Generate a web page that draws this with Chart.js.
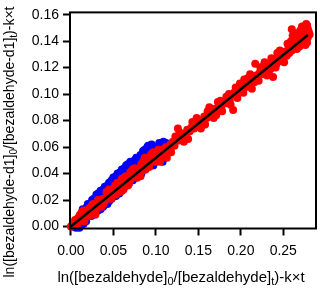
<!DOCTYPE html>
<html>
<head>
<meta charset="utf-8">
<script src="https://cdn.jsdelivr.net/npm/chart.js@4.4.0/dist/chart.umd.min.js"></script>
<style>
  html, body { margin: 0; padding: 0; background: #fff; }
  #wrap { width: 320px; height: 291px; }
</style>
</head>
<body>
<div id="wrap"><canvas id="chart" width="320" height="291"></canvas></div>
<script>
// Scatter of isotope-corrected log ratios (blue / red runs) with linear fit

// red series
const redX = [
  0.000, 0.004, 0.008, 0.010, 0.012, 0.015, 0.018, 0.020, 0.024, 0.026, 0.028, 0.030, 0.032, 0.035,
  0.038, 0.040, 0.042, 0.045, 0.047, 0.050, 0.052, 0.055, 0.058, 0.060, 0.062, 0.065, 0.068, 0.070,
  0.072, 0.075, 0.078, 0.080, 0.083, 0.085, 0.088, 0.090, 0.093, 0.095, 0.098, 0.100, 0.029, 0.062,
  0.102, 0.105, 0.107, 0.110, 0.112, 0.115, 0.117, 0.120, 0.122, 0.125, 0.127, 0.130, 0.132, 0.135,
  0.137, 0.140, 0.142, 0.145, 0.147, 0.150, 0.152, 0.155, 0.157, 0.160, 0.162, 0.165, 0.167, 0.170,
  0.172, 0.175, 0.177, 0.180, 0.182, 0.185, 0.187, 0.190, 0.191, 0.192, 0.195, 0.197, 0.200, 0.113,
  0.128, 0.138, 0.148, 0.158, 0.163, 0.168, 0.173, 0.178, 0.183, 0.188, 0.194, 0.126,
  0.202, 0.205, 0.207, 0.210, 0.212, 0.215, 0.217, 0.218, 0.220, 0.222, 0.225, 0.227, 0.230, 0.232,
  0.235, 0.237, 0.238, 0.240, 0.242, 0.245, 0.247, 0.250, 0.252, 0.254, 0.256, 0.258, 0.260, 0.260,
  0.262, 0.264, 0.265, 0.267, 0.268, 0.270, 0.271, 0.272, 0.273, 0.274, 0.275, 0.276, 0.277, 0.278,
  0.279, 0.280, 0.278, 0.269, 0.266, 0.263, 0.255, 0.248, 0.243, 0.233, 0.228, 0.223, 0.213, 0.208,
  0.203, 0.105, 0.118, 0.123, 0.133, 0.143, 0.153, 0.161, 0.171, 0.176, 0.186, 0.196, 0.199, 0.204,
  0.211, 0.216, 0.221, 0.226, 0.231, 0.236, 0.241, 0.246, 0.251, 0.257, 0.259, 0.261, 0.266, 0.270,
  0.272, 0.275, 0.277, 0.279, 0.281, 0.276, 0.274, 0.005, 0.013, 0.022, 0.036, 0.044, 0.053, 0.057,
  0.067, 0.073, 0.082, 0.087, 0.092, 0.097, 0.034, 0.016, 0.015, 0.025, 0.045, 0.055, 0.065, 0.075,
  0.085, 0.095, 0.060, 0.070, 0.008, 0.018, 0.022, 0.032, 0.038, 0.042, 0.048, 0.052, 0.058, 0.063,
  0.068, 0.072, 0.078, 0.083, 0.088, 0.093, 0.099, 0.103, 0.108, 0.026, 0.011
];
const redY = [
  0.000, 0.002, 0.006, 0.008, 0.007, 0.009, 0.008, 0.011, 0.012, 0.010, 0.015, 0.013, 0.016, 0.018,
  0.021, 0.019, 0.022, 0.023, 0.021, 0.026, 0.028, 0.027, 0.030, 0.032, 0.029, 0.034, 0.036, 0.035,
  0.038, 0.040, 0.041, 0.043, 0.042, 0.046, 0.047, 0.048, 0.050, 0.052, 0.051, 0.054, 0.009, 0.028,
  0.055, 0.053, 0.058, 0.057, 0.060, 0.059, 0.062, 0.064, 0.061, 0.066, 0.065, 0.068, 0.070, 0.069,
  0.073, 0.072, 0.075, 0.074, 0.078, 0.077, 0.080, 0.079, 0.083, 0.082, 0.084, 0.086, 0.085, 0.089,
  0.088, 0.091, 0.090, 0.094, 0.093, 0.096, 0.095, 0.099, 0.088, 0.101, 0.100, 0.104, 0.103, 0.052,
  0.071, 0.066, 0.082, 0.077, 0.090, 0.082, 0.094, 0.087, 0.098, 0.092, 0.105, 0.074,
  0.106, 0.105, 0.108, 0.110, 0.107, 0.112, 0.123, 0.114, 0.113, 0.116, 0.118, 0.115, 0.120, 0.122,
  0.119, 0.124, 0.113, 0.126, 0.123, 0.128, 0.130, 0.127, 0.132, 0.129, 0.134, 0.136, 0.149, 0.133,
  0.138, 0.137, 0.141, 0.139, 0.143, 0.142, 0.145, 0.140, 0.147, 0.144, 0.150, 0.146, 0.148, 0.152,
  0.143, 0.147, 0.139, 0.136, 0.146, 0.142, 0.138, 0.125, 0.131, 0.117, 0.124, 0.120, 0.104, 0.112,
  0.101, 0.049, 0.056, 0.068, 0.064, 0.079, 0.074, 0.087, 0.084, 0.095, 0.100, 0.097, 0.108, 0.111,
  0.115, 0.109, 0.110, 0.121, 0.114, 0.127, 0.120, 0.133, 0.124, 0.131, 0.140, 0.144, 0.134, 0.148,
  0.151, 0.141, 0.153, 0.149, 0.145, 0.137, 0.139, 0.005, 0.011, 0.014, 0.015, 0.026, 0.024, 0.033,
  0.031, 0.043, 0.038, 0.052, 0.045, 0.056, 0.020, 0.004, 0.012, 0.016, 0.028, 0.033, 0.038, 0.044,
  0.049, 0.055, 0.036, 0.041, 0.002, 0.012, 0.008, 0.020, 0.017, 0.026, 0.022, 0.031, 0.026, 0.037,
  0.032, 0.042, 0.037, 0.047, 0.043, 0.053, 0.049, 0.058, 0.053, 0.017, 0.009
];

// blue series
const blueX = [
  0.002, 0.005, 0.006, 0.008, 0.010, 0.012, 0.014, 0.016, 0.018, 0.020, 0.022, 0.024, 0.026, 0.028,
  0.030, 0.033, 0.035, 0.037, 0.040, 0.042, 0.045, 0.047, 0.050, 0.052, 0.054, 0.056, 0.058, 0.060,
  0.062, 0.064, 0.066, 0.068, 0.070, 0.072, 0.074, 0.076, 0.078, 0.080, 0.082, 0.084, 0.086, 0.088,
  0.090, 0.092, 0.094, 0.096, 0.098, 0.100, 0.103, 0.105, 0.107, 0.110, 0.112, 0.108, 0.097, 0.015,
  0.055, 0.050, 0.060, 0.065, 0.070, 0.075, 0.085, 0.090, 0.095, 0.093, 0.045, 0.040, 0.035, 0.030,
  0.025, 0.020, 0.045, 0.060, 0.080, 0.100, 0.035, 0.010, 0.004, 0.012, 0.018, 0.024, 0.028, 0.032,
  0.038, 0.043, 0.048, 0.053, 0.057, 0.063, 0.068, 0.073, 0.078, 0.083, 0.087, 0.091, 0.096, 0.102,
  0.106, 0.014, 0.019, 0.027, 0.032, 0.038, 0.043, 0.048, 0.053, 0.058, 0.063, 0.067, 0.072, 0.077,
  0.082, 0.087, 0.091, 0.098, 0.104, 0.109, 0.113, 0.115
];
const blueY = [
  0.000, 0.004, -0.001, 0.005, 0.003, 0.009, 0.006, 0.011, 0.010, 0.013, 0.009, 0.015, 0.016, 0.013,
  0.019, 0.020, 0.016, 0.022, 0.024, 0.020, 0.027, 0.025, 0.030, 0.026, 0.031, 0.034, 0.029, 0.035,
  0.033, 0.038, 0.036, 0.040, 0.038, 0.042, 0.044, 0.040, 0.045, 0.047, 0.044, 0.049, 0.051, 0.048,
  0.052, 0.054, 0.050, 0.056, 0.055, 0.057, 0.059, 0.056, 0.061, 0.060, 0.063, 0.049, 0.046, 0.002,
  0.040, 0.037, 0.043, 0.046, 0.049, 0.050, 0.057, 0.060, 0.062, 0.058, 0.033, 0.030, 0.027, 0.024,
  0.020, 0.017, 0.019, 0.027, 0.038, 0.049, 0.013, -0.001, 0.002, 0.001, 0.004, 0.008, 0.009, 0.012,
  0.015, 0.017, 0.021, 0.023, 0.025, 0.030, 0.032, 0.035, 0.037, 0.040, 0.043, 0.046, 0.048, 0.052,
  0.054, 0.013, 0.015, 0.021, 0.025, 0.028, 0.031, 0.035, 0.038, 0.041, 0.044, 0.047, 0.048, 0.052,
  0.054, 0.058, 0.061, 0.060, 0.063, 0.064, 0.058, 0.062
];

// linear fit end points
const fitX = [0.000, 0.279];
const fitY = [0.000, 0.1447];

// axis ticks
const xTicks = [0.00, 0.05, 0.10, 0.15, 0.20, 0.25];
const yTicks = [0.00, 0.02, 0.04, 0.06, 0.08, 0.10, 0.12, 0.14, 0.16];

const FONT = '"Liberation Sans", Arial, sans-serif';

function toPoints(xs, ys) {
    return xs.map((x, i) => ({ x: x, y: ys[i] }));
}

// draw a title made of normal + subscript pieces, centred on (cx, cy)
function drawRichText(ctx, parts, cx, cy, angle, size) {
    const big = size + 'px ' + FONT;
    const small = Math.round(size * 0.7) + 'px ' + FONT;
    let total = 0;
    parts.forEach(p => {
        ctx.font = p.sub ? small : big;
        total += ctx.measureText(p.t).width;
    });
    ctx.save();
    ctx.translate(cx, cy);
    ctx.rotate(angle);
    ctx.fillStyle = '#000';
    ctx.textBaseline = 'alphabetic';
    ctx.textAlign = 'left';
    let x = -total / 2;
    parts.forEach(p => {
        ctx.font = p.sub ? small : big;
        ctx.fillText(p.t, x, p.sub ? size * 0.6 : size * 0.37);
        x += ctx.measureText(p.t).width;
    });
    ctx.restore();
}

const frameAndTitles = {
    id: 'frameAndTitles',
    afterDraw(chart) {
        const ctx = chart.ctx;
        const a = chart.chartArea;
        ctx.save();
        ctx.strokeStyle = '#000';
        ctx.lineWidth = 2;
        ctx.strokeRect(a.left, a.top, a.right - a.left, a.bottom - a.top);
        ctx.restore();

        drawRichText(ctx, [
            { t: 'ln([bezaldehyde]' }, { t: '0', sub: true },
            { t: '/[bezaldehyde]' }, { t: 't', sub: true },
            { t: ')-k\u00d7t' }
        ], 181, 276, 0, 15);

        drawRichText(ctx, [
            { t: 'ln([bezaldehyde-d1]' }, { t: '0', sub: true },
            { t: '/[bezaldehyde-d1]' }, { t: 't', sub: true },
            { t: ')-k\u00d7t' }
        ], 9, 142, -Math.PI / 2, 14);
    }
};

const ctx = document.getElementById('chart').getContext('2d');
const chart = new Chart(ctx, {
    type: 'scatter',
    data: {
        datasets: [
            {
                type: 'line',
                label: 'fit',
                data: toPoints(fitX, fitY),
                borderColor: '#000000',
                borderWidth: 2.5,
                pointRadius: 0,
                fill: false,
                order: 0
            },
            {
                label: 'red',
                data: toPoints(redX, redY),
                backgroundColor: '#ff0000',
                borderColor: '#ff0000',
                borderWidth: 0,
                pointRadius: 4,
                clip: false,
                order: 1
            },
            {
                label: 'blue',
                data: toPoints(blueX, blueY),
                backgroundColor: '#0000ff',
                borderColor: '#0000ff',
                borderWidth: 0,
                pointRadius: 4,
                clip: false,
                order: 2
            }
        ]
    },
    options: {
        responsive: false,
        animation: false,
        maintainAspectRatio: false,
        layout: { padding: { left: 0, top: 12, right: 4, bottom: 0 } },
        plugins: {
            legend: { display: false },
            tooltip: { enabled: false },
            title: { display: false }
        },
        scales: {
            x: {
                type: 'linear',
                min: -0.001,
                max: 0.2885,
                afterBuildTicks: s => { s.ticks = xTicks.map(v => ({ value: v })); },
                afterFit: s => { s.height = 62.5; },
                grid: { drawOnChartArea: false, drawTicks: true, tickLength: 7, tickWidth: 2, tickColor: '#000', color: '#000' },
                border: { display: false },
                ticks: {
                    padding: 7,
                    color: '#000',
                    font: { family: FONT, size: 14 },
                    callback: v => v.toFixed(2)
                },
                title: { display: false }
            },
            y: {
                type: 'linear',
                min: -0.0015,
                max: 0.1617,
                afterBuildTicks: s => { s.ticks = yTicks.map(v => ({ value: v })); },
                afterFit: s => { s.width = 70; },
                grid: { drawOnChartArea: false, drawTicks: true, tickLength: 7, tickWidth: 2, tickColor: '#000', color: '#000' },
                border: { display: false },
                ticks: {
                    padding: 4,
                    color: '#000',
                    font: { family: FONT, size: 14 },
                    callback: v => v.toFixed(2)
                },
                title: { display: false }
            }
        }
    },
    plugins: [frameAndTitles]
});
</script>
</body>
</html>
